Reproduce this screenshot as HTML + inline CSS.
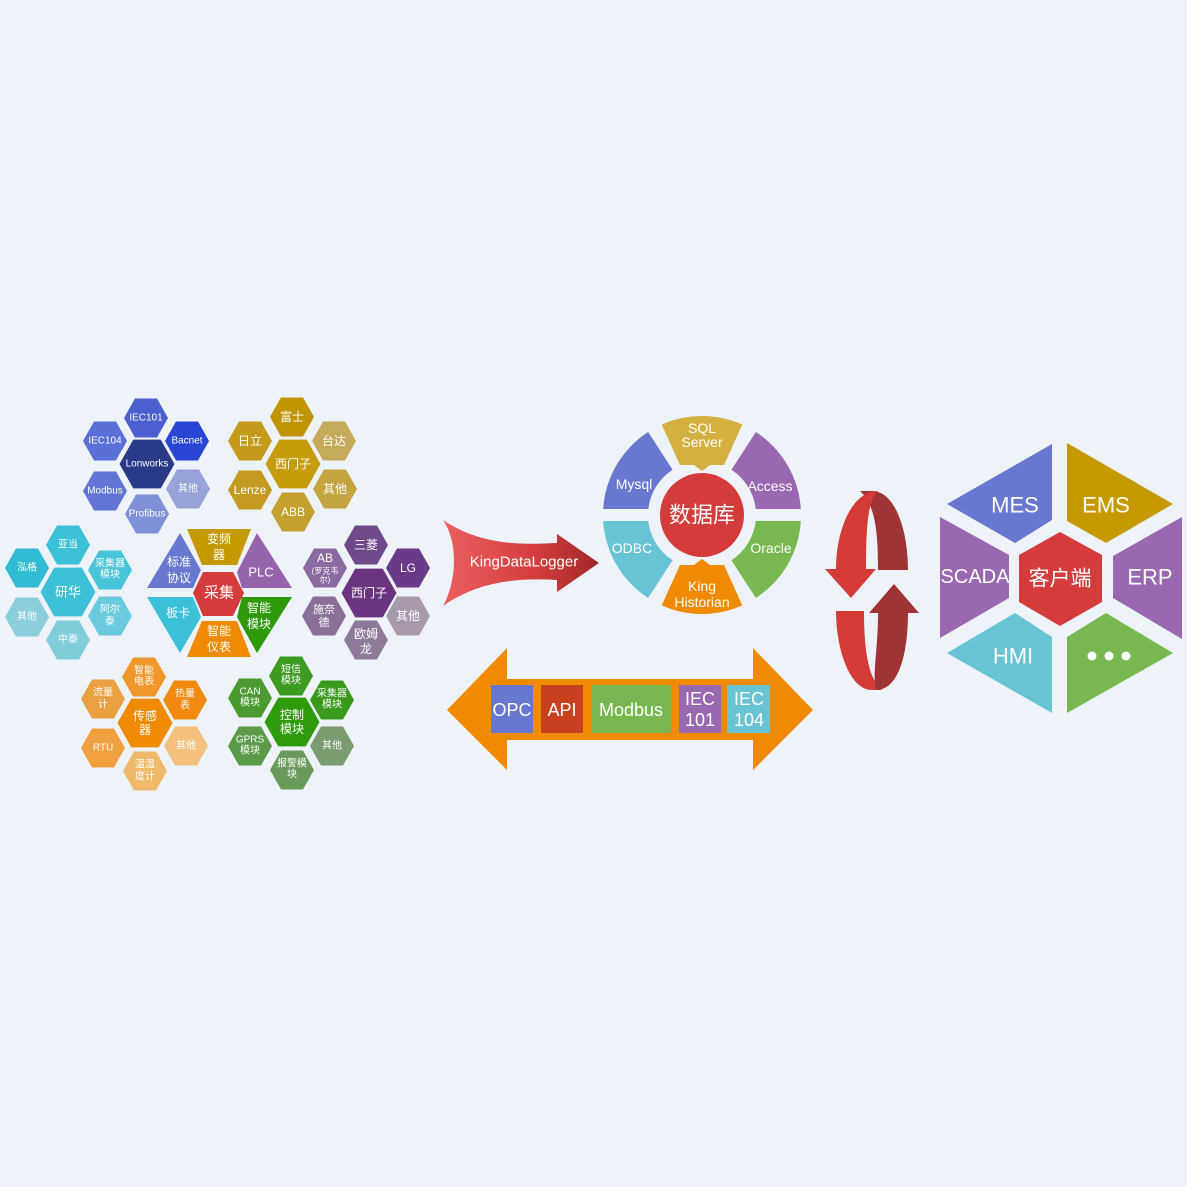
<!DOCTYPE html>
<html><head><meta charset="utf-8"><style>
html,body{margin:0;padding:0;background:#eef3fa;}
svg{display:block;}
text{font-family:"Liberation Sans","Noto Sans CJK SC",sans-serif;fill:#fff;text-anchor:middle;dominant-baseline:central;}
</style></head><body>
<svg width="1187" height="1187" viewBox="0 0 1187 1187" xmlns="http://www.w3.org/2000/svg">
<defs>
<polygon id="h" points="-22,0 -11,-19.5 11,-19.5 22,0 11,19.5 -11,19.5"/>
<linearGradient id="kg" x1="0" x2="1" y1="0" y2="0"><stop offset="0" stop-color="#ec6060"/><stop offset="0.6" stop-color="#d43c3c"/><stop offset="1" stop-color="#a02828"/></linearGradient>
</defs>
<rect width="1187" height="1187" fill="#eef3fa"/>

<!-- blue cluster -->
<g font-size="10">
<g transform="translate(146,418)"><use href="#h" fill="#4a5fd0"/><text>IEC101</text></g>
<g transform="translate(105,441)"><use href="#h" fill="#5a6fd8"/><text>IEC104</text></g>
<g transform="translate(187,441)"><use href="#h" fill="#2845d6"/><text>Bacnet</text></g>
<g transform="translate(147,464)"><use href="#h" fill="#2b3a88" transform="scale(1.25)"/><text>Lonworks</text></g>
<g transform="translate(105,491)"><use href="#h" fill="#6274d4"/><text>Modbus</text></g>
<g transform="translate(188,489)"><use href="#h" fill="#96a2d8"/><text>其他</text></g>
<g transform="translate(147,514)"><use href="#h" fill="#7f8fd8"/><text>Profibus</text></g>
</g>
<!-- gold cluster -->
<g font-size="12">
<g transform="translate(292,417)"><use href="#h" fill="#c09400"/><text>富士</text></g>
<g transform="translate(250,441)"><use href="#h" fill="#c49a1a"/><text>日立</text></g>
<g transform="translate(334,441)"><use href="#h" fill="#c5aa5a"/><text>台达</text></g>
<g transform="translate(293,464)"><use href="#h" fill="#c59c0a" transform="scale(1.25)"/><text>西门子</text></g>
<g transform="translate(250,490)"><use href="#h" fill="#c49a20"/><text>Lenze</text></g>
<g transform="translate(335,489)"><use href="#h" fill="#c4a440"/><text>其他</text></g>
<g transform="translate(293,512)"><use href="#h" fill="#c4a030"/><text>ABB</text></g>
</g>
<!-- cyan cluster -->
<g font-size="10">
<g transform="translate(68,545)"><use href="#h" fill="#3cc0d8"/><text>亚当</text></g>
<g transform="translate(27,568)"><use href="#h" fill="#30bcd4"/><text>泓格</text></g>
<g transform="translate(110,570)"><use href="#h" fill="#48c4d8"/><text y="-6">采集器</text><text y="5">模块</text></g>
<g transform="translate(68,592)"><use href="#h" fill="#3cc0d6" transform="scale(1.25)"/><text font-size="13">研华</text></g>
<g transform="translate(27,617)"><use href="#h" fill="#8ccfdc"/><text>其他</text></g>
<g transform="translate(110,616)"><use href="#h" fill="#6ccade"/><text y="-6">阿尔</text><text y="6">泰</text></g>
<g transform="translate(68,640)"><use href="#h" fill="#80cedc"/><text>中泰</text></g>
</g>
<!-- center collect -->
<polygon points="187,529 251,529 237,565 202,565" fill="#c49a00"/>
<text x="219" y="539" font-size="12">变频</text><text x="219" y="555" font-size="12">器</text>
<polygon points="180,533 201,570 193,588 147,588" fill="#6878d0"/>
<text x="179" y="562" font-size="12">标准</text><text x="179" y="578" font-size="12">协议</text>
<polygon points="257,533 292,588 242,588 237,572" fill="#9664aa"/>
<text x="261" y="572" font-size="13">PLC</text>
<polygon points="193,593 203,572 233,572 244,593 233,616 203,616" fill="#d43c3c"/>
<text x="219" y="593" font-size="15">采集</text>
<polygon points="147,597 193,597 201,617 180,653" fill="#3cc0d8"/>
<text x="178" y="613" font-size="12">板卡</text>
<polygon points="242,597 292,597 257,653 237,617" fill="#2e9a0a"/>
<text x="259" y="608" font-size="12">智能</text><text x="259" y="624" font-size="12">模块</text>
<polygon points="202,621 237,621 251,657 187,657" fill="#f08a00"/>
<text x="219" y="631" font-size="12">智能</text><text x="219" y="647" font-size="12">仪表</text>
<!-- purple cluster -->
<g font-size="12">
<g transform="translate(366,545)"><use href="#h" fill="#6e4a8a"/><text>三菱</text></g>
<g transform="translate(325,568)"><use href="#h" fill="#8a6aa0"/><text y="-10">AB</text><text y="3" font-size="8">(罗克韦</text><text y="12" font-size="8">尔)</text></g>
<g transform="translate(408,568)"><use href="#h" fill="#6a3a88"/><text>LG</text></g>
<g transform="translate(369,593)"><use href="#h" fill="#6a3480" transform="scale(1.25)"/><text>西门子</text></g>
<g transform="translate(324,616)"><use href="#h" fill="#8a7098"/><text y="-6" font-size="11">施奈</text><text y="7" font-size="11">德</text></g>
<g transform="translate(408,616)"><use href="#h" fill="#a898ac"/><text>其他</text></g>
<g transform="translate(366,640)"><use href="#h" fill="#8e7a98"/><text y="-6">欧姆</text><text y="9">龙</text></g>
</g>
<!-- orange cluster -->
<g font-size="10">
<g transform="translate(144,677)"><use href="#h" fill="#f0962a"/><text y="-6">智能</text><text y="5">电表</text></g>
<g transform="translate(103,699)"><use href="#h" fill="#e8a040"/><text y="-6">流量</text><text y="6">计</text></g>
<g transform="translate(185,700)"><use href="#h" fill="#f08a10"/><text y="-6">热量</text><text y="6">表</text></g>
<g transform="translate(145,723)"><use href="#h" fill="#f08a00" transform="scale(1.25)"/><text y="-7" font-size="12">传感</text><text y="7" font-size="12">器</text></g>
<g transform="translate(103,748)"><use href="#h" fill="#f0a040"/><text>RTU</text></g>
<g transform="translate(186,746)"><use href="#h" fill="#f4c07e"/><text>其他</text></g>
<g transform="translate(145,771)"><use href="#h" fill="#f0b86a"/><text y="-6">温湿</text><text y="6">度计</text></g>
</g>
<!-- green cluster -->
<g font-size="10">
<g transform="translate(291,676)"><use href="#h" fill="#3c9a20"/><text y="-6">短信</text><text y="5">模块</text></g>
<g transform="translate(250,698)"><use href="#h" fill="#4a9a30"/><text y="-6">CAN</text><text y="5">模块</text></g>
<g transform="translate(332,700)"><use href="#h" fill="#3a9a1c"/><text y="-6">采集器</text><text y="5">模块</text></g>
<g transform="translate(292,722)"><use href="#h" fill="#2f9a0a" transform="scale(1.25)"/><text y="-7" font-size="12">控制</text><text y="7" font-size="12">模块</text></g>
<g transform="translate(250,746)"><use href="#h" fill="#5a9a48"/><text y="-6">GPRS</text><text y="5">模块</text></g>
<g transform="translate(332,746)"><use href="#h" fill="#7a9a70"/><text>其他</text></g>
<g transform="translate(292,770)"><use href="#h" fill="#6a9a5a"/><text y="-6">报警模</text><text y="5">块</text></g>
</g>

<!-- KingDataLogger arrow -->
<path d="M443,520 C480,545 520,545 557,543 L557,534 L599,563 L557,592 L557,580 C520,578 480,580 443,606 C455,585 460,545 443,520 Z" fill="url(#kg)"/>
<text x="524" y="562" font-size="15">KingDataLogger</text>

<!-- database ring -->
<g transform="translate(702,515)">
<path d="M-40.3,-90.4 A99,99 0 0 1 40.3,-90.4 L22,-50 L8,-50 L0,-44 L-8,-50 L-22,-50 Z" fill="#d4b040"/>
<path d="M53.9,-83 A99,99 0 0 1 98.8,-6 L53.7,-6 A54,54 0 0 0 29.4,-45.3 Z" fill="#9a68b0"/>
<path d="M98.8,6 A99,99 0 0 1 53.9,83 L29.4,45.3 A54,54 0 0 0 53.7,6 Z" fill="#78b850"/>
<path d="M40.3,90.4 A99,99 0 0 1 -40.3,90.4 L-22,50 L-8,50 L0,44 L8,50 L22,50 Z" fill="#f08a00"/>
<path d="M-53.9,83 A99,99 0 0 1 -98.8,6 L-53.7,6 A54,54 0 0 0 -29.4,45.3 Z" fill="#68c4d4"/>
<path d="M-98.8,-6 A99,99 0 0 1 -53.9,-83 L-29.4,-45.3 A54,54 0 0 0 -53.7,-6 Z" fill="#6878d0"/>
<circle r="42" fill="#d43c3c"/>
<text font-size="22">数据库</text>
<text y="-87" font-size="14">SQL</text><text y="-73" font-size="14">Server</text>
<text x="68" y="-29" font-size="14">Access</text>
<text x="69" y="33" font-size="14">Oracle</text>
<text y="71" font-size="14">King</text><text y="87" font-size="14">Historian</text>
<text x="-70" y="33" font-size="14">ODBC</text>
<text x="-68" y="-31" font-size="14">Mysql</text>
</g>

<!-- double arrow -->
<polygon points="447,710 507,648 507,679 753,679 753,648 813,710 753,770 753,740 507,740 507,770" fill="#f08a00"/>
<rect x="491" y="685" width="42" height="48" fill="#6878d0"/><text x="512" y="710" font-size="18">OPC</text>
<rect x="541" y="685" width="42" height="48" fill="#c84020"/><text x="562" y="710" font-size="18">API</text>
<rect x="592" y="685" width="79" height="48" fill="#78b850"/><text x="631" y="710" font-size="18">Modbus</text>
<rect x="679" y="685" width="42" height="48" fill="#9a68b0"/><text x="700" y="699" font-size="18">IEC</text><text x="700" y="720" font-size="18">101</text>
<rect x="727" y="685" width="43" height="48" fill="#68c4d4"/><text x="749" y="699" font-size="18">IEC</text><text x="749" y="720" font-size="18">104</text>

<!-- cycle arrows -->
<path d="M872,491 C895,491 908,530 908,570 L878,570 C878,535 876,505 860,491 Z" fill="#a03434"/>
<path d="M878,491 C852,491 836,530 836,569 L825,569 L851,598 L876,569 L866,569 C866,525 868,500 878,491 Z" fill="#d43a36"/>
<path d="M836,611 L864,611 C864,650 868,678 882,690 L872,690 C850,690 836,650 836,611 Z" fill="#d43a36"/>
<path d="M878,613 L869,613 L894,584 L919,613 L908,613 C908,650 900,690 876,690 C872,675 878,650 878,613 Z" fill="#a03434"/>

<!-- client hexagon -->
<polygon points="947,504 1052,444 1052,520 1015,543" fill="#6878d0"/><text x="1015" y="505" font-size="22">MES</text>
<polygon points="1067,443 1173,504 1106,543 1067,521" fill="#c49a00"/><text x="1106" y="505" font-size="22">EMS</text>
<polygon points="940,517 1009,555 1009,598 940,638" fill="#9a68b0"/><text x="975" y="577" font-size="20">SCADA</text>
<polygon points="1182,517 1113,556 1113,598 1182,639" fill="#9a68b0"/><text x="1150" y="577" font-size="22">ERP</text>
<polygon points="947,653 1015,613 1052,637 1052,713" fill="#68c4d4"/><text x="1013" y="656" font-size="22">HMI</text>
<polygon points="1067,637 1106,613 1173,653 1067,713" fill="#78b850"/>
<circle cx="1092" cy="656" r="4.5" fill="#fff"/><circle cx="1109" cy="656" r="4.5" fill="#fff"/><circle cx="1126" cy="656" r="4.5" fill="#fff"/>
<polygon points="1060,532 1102,555 1102,602 1060,626 1019,602 1019,555" fill="#d43c3c"/>
<text x="1060" y="579" font-size="21">客户端</text>
</svg>
</body></html>
